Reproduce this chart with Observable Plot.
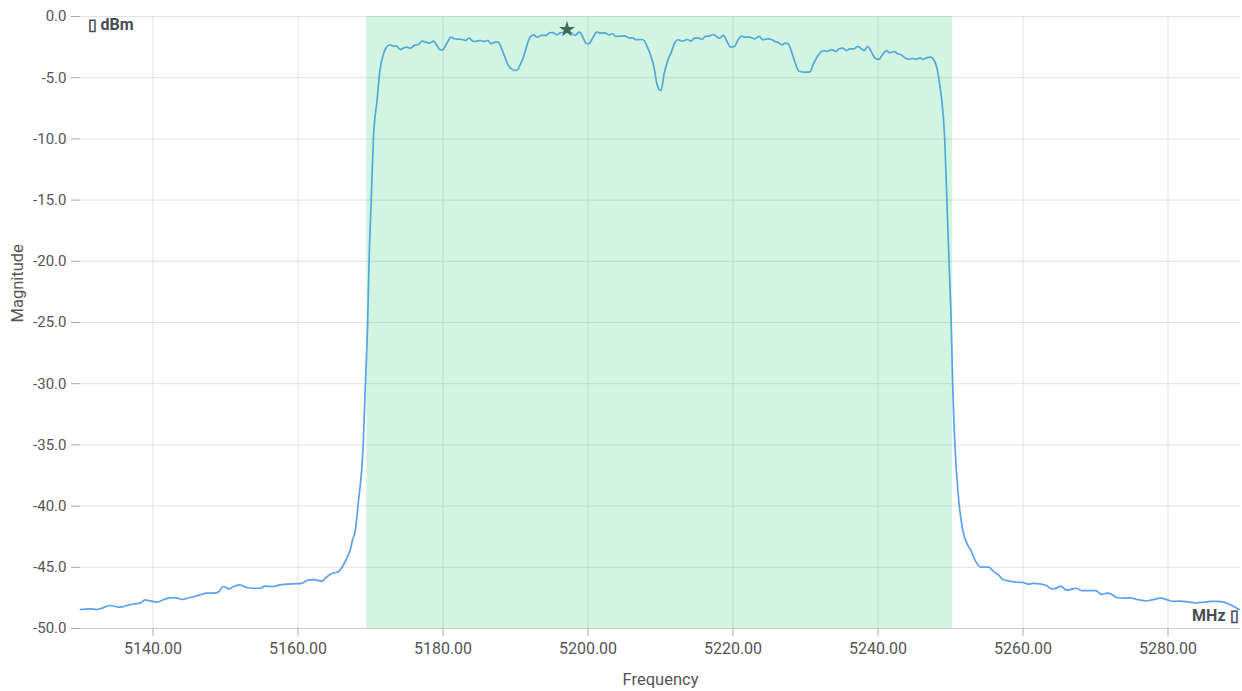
<!DOCTYPE html>
<html>
<head>
<meta charset="utf-8">
<script src="https://cdn.jsdelivr.net/npm/d3@7"></script>
<script src="https://cdn.jsdelivr.net/npm/@observablehq/plot@0.6"></script>
<style>
  html, body { margin: 0; padding: 0; background: #ffffff; }
  #chart { width: 1242px; height: 691px; }
</style>
</head>
<body>
<div id="chart"></div>
<script>
// ---- Data ----
const freqMHz = [
  5130.0, 5131.3, 5132.2, 5133.1, 5134.1, 5134.8, 5135.5, 5136.4, 5137.3, 5138.2,
  5138.9, 5139.6, 5140.5, 5141.2, 5142.1, 5143.0, 5144.1, 5144.9, 5145.8, 5146.5,
  5147.4, 5148.3, 5149.0, 5149.7, 5150.5, 5151.1, 5152.0, 5152.9, 5153.8, 5154.8,
  5155.4, 5156.6, 5157.5, 5158.4, 5159.4, 5160.5, 5161.2, 5162.1, 5163.3, 5163.9,
  5164.6, 5165.6, 5166.3, 5166.8, 5167.3, 5167.5, 5167.9, 5168.3, 5169.0, 5169.3,
  5169.6, 5169.8, 5170.1, 5170.4, 5170.9, 5171.3, 5171.8, 5172.2, 5172.7, 5173.15,
  5173.6, 5174.1, 5174.5, 5175.0, 5175.5, 5176.1, 5176.6, 5177.1, 5177.7, 5178.1,
  5178.7, 5179.1, 5179.6, 5180.0, 5180.5, 5181.1, 5181.6, 5182.1, 5182.7, 5183.1,
  5183.6, 5184.2, 5184.6, 5185.2, 5185.7, 5186.2, 5186.6, 5187.2, 5187.6, 5188.1,
  5188.55, 5189.1, 5189.5, 5189.9, 5190.3, 5190.6, 5191.1, 5191.5, 5192.0, 5192.5,
  5193.0, 5193.6, 5194.2, 5194.7, 5195.1, 5195.7, 5196.1, 5196.7, 5197.3, 5197.7,
  5198.2, 5198.8, 5199.3, 5199.7, 5200.1, 5200.6, 5201.2, 5201.75, 5202.3, 5202.9,
  5203.4, 5203.8, 5204.4, 5205.1, 5205.65, 5206.2, 5206.6, 5207.2, 5207.6, 5208.1,
  5208.65, 5209.1, 5209.5, 5209.8, 5210.07, 5210.5, 5211.0, 5211.5, 5212.0, 5212.45,
  5213.0, 5213.7, 5214.2, 5214.7, 5215.2, 5215.7, 5216.2, 5216.7, 5217.2, 5217.7,
  5218.1, 5218.7, 5219.1, 5219.7, 5220.2, 5220.7, 5221.2, 5221.7, 5222.3, 5223.0,
  5223.6, 5224.1, 5224.8, 5225.3, 5225.8, 5226.2, 5226.7, 5227.2, 5227.6, 5228.1,
  5228.55, 5229.1, 5229.9, 5230.6, 5231.1, 5231.5, 5232.1, 5232.55, 5233.0, 5233.6,
  5234.2, 5234.6, 5235.1, 5235.7, 5236.1, 5236.7, 5237.2, 5237.6, 5238.1, 5238.6,
  5239.1, 5239.6, 5240.1, 5240.6, 5241.2, 5241.6, 5242.2, 5242.7, 5243.2, 5243.7,
  5244.3, 5244.8, 5245.2, 5245.8, 5246.2, 5246.7, 5247.2, 5247.6, 5248.1, 5248.5,
  5248.8, 5249.2, 5249.5, 5249.8, 5250.1, 5250.3, 5250.6, 5251.1, 5251.7, 5252.3,
  5252.8, 5253.4, 5254.2, 5254.8, 5255.3, 5255.9, 5256.6, 5257.3, 5258.2, 5259.1,
  5260.0, 5260.7, 5261.4, 5262.3, 5263.2, 5264.0, 5264.7, 5265.2, 5266.0, 5266.6,
  5267.3, 5268.1, 5269.0, 5270.0, 5270.9, 5271.6, 5272.1, 5273.0, 5273.9, 5274.8,
  5275.7, 5276.9, 5277.8, 5279.0, 5279.9, 5280.8, 5281.7, 5282.9, 5283.8, 5285.0,
  5285.9, 5286.8, 5287.7, 5288.6, 5289.8
];
const magnitudeDbm = [
  -48.45, -48.39, -48.45, -48.31, -48.12, -48.20, -48.26, -48.12, -48.00, -47.93,
  -47.66, -47.74, -47.85, -47.71, -47.52, -47.47, -47.63, -47.49, -47.39, -47.25,
  -47.11, -47.11, -47.03, -46.57, -46.76, -46.57, -46.43, -46.65, -46.71, -46.71,
  -46.54, -46.57, -46.43, -46.38, -46.35, -46.32, -46.08, -46.00, -46.13, -45.81,
  -45.53, -45.34, -44.77, -44.17, -43.36, -42.81, -42.00, -39.80, -34.90, -30.00,
  -25.10, -20.10, -15.00, -10.00, -6.86, -4.41, -3.05, -2.51, -2.31, -2.42,
  -2.42, -2.70, -2.59, -2.51, -2.59, -2.34, -2.29, -2.01, -2.10, -2.18,
  -2.01, -2.31, -2.72, -2.70, -2.23, -1.69, -1.82, -1.85, -1.88, -1.96,
  -1.77, -2.04, -2.01, -1.96, -2.04, -1.96, -2.23, -2.10, -2.10, -2.64,
  -3.32, -4.08, -4.30, -4.41, -4.35, -4.00, -3.32, -2.51, -1.69, -1.50,
  -1.69, -1.55, -1.55, -1.33, -1.31, -1.50, -1.36, -1.28, -1.23, -1.33,
  -1.55, -1.28, -1.69, -2.18, -2.23, -1.82, -1.28, -1.36, -1.33, -1.50,
  -1.41, -1.63, -1.61, -1.58, -1.74, -1.74, -1.90, -1.88, -1.90, -2.37,
  -3.19, -4.14, -5.50, -5.96, -6.05, -4.68, -3.59, -2.91, -2.10, -1.90,
  -2.01, -1.88, -2.01, -1.77, -1.74, -1.88, -1.63, -1.61, -1.47, -1.61,
  -1.77, -1.55, -1.96, -2.51, -2.45, -1.90, -1.61, -1.69, -1.69, -1.82,
  -1.63, -1.90, -1.82, -1.88, -2.04, -2.10, -2.31, -2.18, -2.23, -2.91,
  -3.73, -4.47, -4.55, -4.52, -3.86, -3.41, -2.91, -2.78, -2.86, -2.70,
  -2.86, -2.64, -2.59, -2.78, -2.64, -2.64, -2.45, -2.59, -2.78, -2.45,
  -2.91, -3.41, -3.51, -3.13, -2.78, -2.97, -2.86, -3.05, -3.13, -3.38,
  -3.51, -3.41, -3.51, -3.38, -3.51, -3.38, -3.32, -3.46, -4.14, -5.50,
  -6.86, -9.97, -15.00, -20.10, -25.10, -30.00, -34.90, -39.30, -42.00, -43.10,
  -43.60, -44.44, -44.99, -44.99, -44.99, -45.32, -45.61, -46.02, -46.13, -46.22,
  -46.24, -46.38, -46.32, -46.35, -46.49, -46.76, -46.68, -46.54, -46.87, -46.81,
  -46.71, -46.90, -46.90, -46.90, -47.22, -47.11, -47.17, -47.49, -47.52, -47.49,
  -47.63, -47.74, -47.66, -47.52, -47.66, -47.79, -47.76, -47.85, -47.90, -47.85,
  -47.79, -47.79, -47.85, -48.06, -48.45
];
const channelStart = 5169.5;   // MHz, shaded channel
const channelEnd = 5250.3;
const peakFreq = [5197.1];
const peakMag = [-1.06];
const xTicks = [5140, 5160, 5180, 5200, 5220, 5240, 5260, 5280];
const yTicks = [0, -5, -10, -15, -20, -25, -30, -35, -40, -45, -50];
const xDomain = [5130, 5290];
const yDomain = [-50, 0];
const xTitle = "Frequency";
const yTitle = "Magnitude";
const yUnit = "\u25AF dBm";
const xUnit = "MHz \u25AF";

// ---- Build tables ----
const spectrum = freqMHz.map((f, i) => ({f, m: magnitudeDbm[i]}));
const peak = peakFreq.map((f, i) => ({f, m: peakMag[i]}));
const band = [{x1: channelStart, x2: channelEnd}];

const chart = Plot.plot({
  width: 1242,
  height: 691,
  marginTop: 16,
  marginBottom: 63,
  marginLeft: 80,
  marginRight: 2,
  style: {fontFamily: "Roboto, 'Noto Sans', sans-serif", fontSize: "15px", background: "#ffffff", overflow: "visible"},
  x: {domain: xDomain},
  y: {domain: yDomain},
  marks: [
    Plot.gridX(xTicks, {stroke: "#e2e2e2", strokeOpacity: 1, strokeWidth: 1}),
    Plot.gridY(yTicks, {stroke: "#e2e2e2", strokeOpacity: 1, strokeWidth: 1}),
    Plot.ruleY([yDomain[0]], {stroke: "#cfcfcf", strokeWidth: 1.2}),
    Plot.axisX({ticks: xTicks, tickFormat: d => d.toFixed(2), tickSize: 8, tickPadding: 6,
      label: null, stroke: "#a8a8a8", fill: "#555", fontSize: 16}),
    Plot.axisY({ticks: yTicks, tickFormat: d => (d === 0 ? 0 : d).toFixed(1), tickSize: 9, tickPadding: 5,
      label: null, stroke: "#a8a8a8", fill: "#555", fontSize: 15}),
    Plot.line(spectrum, {x: "f", y: "m", stroke: "#5aa0f5", strokeWidth: 1.7, curve: "monotone-x"}),
    Plot.rect(band, {x1: "x1", x2: "x2", fill: "#2ecc71", fillOpacity: 0.21}),
    Plot.dot(peak, {x: "f", y: "m", symbol: "star", r: 5, fill: "#3e6b55", stroke: "none"}),
    Plot.text([yUnit], {frameAnchor: "top-left", dx: 7, dy: 8, textAnchor: "start", lineAnchor: "middle",
      fontWeight: "bold", fill: "#474d55", fontSize: 16}),
    Plot.text([xUnit], {frameAnchor: "bottom-right", dx: -2, dy: -13, textAnchor: "end", lineAnchor: "middle",
      fontWeight: "bold", fill: "#474d55", fontSize: 16}),
    Plot.text([xTitle], {frameAnchor: "bottom", dy: 51, lineAnchor: "middle", fill: "#555", fontSize: 16.5}),
    Plot.text([yTitle], {frameAnchor: "left", dx: -63, rotate: -90, lineAnchor: "middle", fill: "#555", fontSize: 16.5})
  ]
});
document.getElementById("chart").appendChild(chart);
</script>
</body>
</html>
